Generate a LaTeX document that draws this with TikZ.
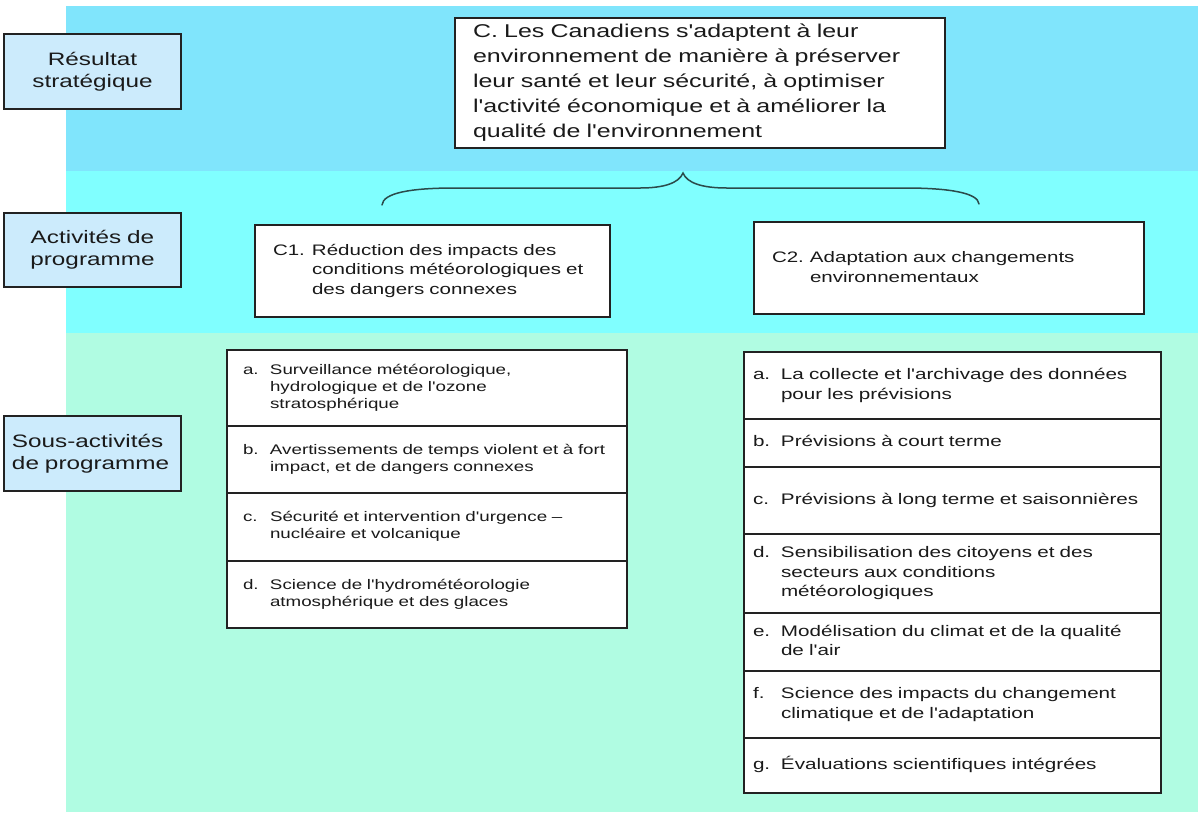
\documentclass[tikz,border=0pt]{standalone}
\usepackage{fontspec}
\newfontfamily\ar{Liberation Sans}[FakeStretch=1.35]
\definecolor{topband}{RGB}{128,229,252}
\definecolor{midband}{RGB}{128,255,255}
\definecolor{lowband}{RGB}{176,252,226}
\definecolor{labelfill}{RGB}{204,235,252}
\definecolor{edge}{RGB}{34,34,34}
\definecolor{ink}{RGB}{26,26,26}
\definecolor{bracecol}{RGB}{43,75,75}
% hanging item: marker in a fixed-width slot, lines stacked after it
\newcommand\hng[3]{\makebox[#2][l]{#1}\begin{tabular}[t]{@{}l@{}}#3\end{tabular}}
\begin{document}
\begin{tikzpicture}[x=1pt,y=-1pt,
  every node/.style={inner sep=0pt, outer sep=0pt, text=ink},
  lbox/.style={draw=edge, fill=labelfill, line width=1.2pt, anchor=north west,
    inner xsep=8pt, text width=161pt, minimum height=75pt,
    font=\ar\fontsize{18}{22}\selectfont},
  cbox/.style={draw=edge, fill=white, line width=1.2pt, anchor=north west,
    inner xsep=18pt, align=left},
  litem/.style={draw=edge, fill=white, line width=1.2pt, anchor=north west,
    inner xsep=16pt, text width=368pt, align=left,
    font=\ar\fontsize{13.9}{17}\selectfont},
  ritem/.style={draw=edge, fill=white, line width=1.2pt, anchor=north west,
    inner xsep=9pt, text width=399pt, align=left,
    font=\ar\fontsize{15.3}{19.5}\selectfont},
  bracepath/.style={draw=bracecol, line width=1.5pt, line cap=round}]
\useasboundingbox (0,0) rectangle (1198,812);
\fill[white] (0,0) rectangle (1198,812);
% background bands
\fill[topband] (66,6) rectangle (1198,171);
\fill[midband] (66,171) rectangle (1198,333);
\fill[lowband] (66,333) rectangle (1198,812);

% level labels
\node[lbox, align=center] (l1) at (4,34) {Résultat\\stratégique};
\node[lbox, align=center, minimum height=74pt] (l2) at (4,213) {Activités de\\programme};
\node[lbox, align=left] (l3) at (4,416) {Sous-activités\\de programme};

% strategic outcome
\node[cbox, text width=454pt, minimum height=130pt,
  font=\ar\fontsize{18.5}{25}\selectfont] (c) at (455,18)
  {C. Les Canadiens s'adaptent à leur\\
   environnement de manière à préserver\\
   leur santé et leur sécurité, à optimiser\\
   l'activité économique et à améliorer la\\
   qualité de l'environnement};

% program activities
\node[cbox, text width=319pt, minimum height=92pt,
  font=\ar\fontsize{15.2}{19.5}\selectfont] (c1) at (255,225)
  {\hng{C1.}{39pt}{Réduction des impacts des\\conditions météorologiques et\\des dangers connexes}};
\node[cbox, text width=354pt, minimum height=92pt,
  font=\ar\fontsize{15.2}{20}\selectfont] (c2) at (754,222)
  {\hng{C2.}{38pt}{Adaptation aux changements\\environnementaux}};

% brace grouping the two activities under the outcome
\coordinate (bl) at (382,205);
\coordinate (bt) at (683,173);
\coordinate (br) at (979,204);
\draw[bracepath] (bl) .. controls (383,193) and (410,188) .. (455,188)
  -- (640,188) .. controls (664,188) and (679,183) .. (bt)
  .. controls (687,183) and (702,188) .. (727,188)
  -- (905,188) .. controls (950,188) and (978,193) .. (br);

% sub-activities of C1
\node[litem, minimum height=76pt] (la) at (227,350)
  {\hng{a.}{27pt}{Surveillance météorologique,\\hydrologique et de l'ozone\\stratosphérique}};
\node[litem, minimum height=67pt] (lb) at (227,426)
  {\hng{b.}{27pt}{Avertissements de temps violent et à fort\\impact, et de dangers connexes}};
\node[litem, minimum height=68pt] (lc) at (227,493)
  {\hng{c.}{27pt}{Sécurité et intervention d'urgence –\\nucléaire et volcanique}};
\node[litem, minimum height=67pt] (ld) at (227,561)
  {\hng{d.}{27pt}{Science de l'hydrométéorologie\\atmosphérique et des glaces}};

% sub-activities of C2
\node[ritem, minimum height=67pt] (ra) at (744,352)
  {\hng{a.}{28pt}{La collecte et l'archivage des données\\pour les prévisions}};
\node[ritem, minimum height=48pt] (rb) at (744,419)
  {\hng{b.}{28pt}{Prévisions à court terme}};
\node[ritem, minimum height=67pt] (rc) at (744,467)
  {\hng{c.}{28pt}{Prévisions à long terme et saisonnières}};
\node[ritem, minimum height=79pt] (rd) at (744,534)
  {\hng{d.}{28pt}{Sensibilisation des citoyens et des\\secteurs aux conditions\\météorologiques}};
\node[ritem, minimum height=58pt] (re) at (744,613)
  {\hng{e.}{28pt}{Modélisation du climat et de la qualité\\de l'air}};
\node[ritem, minimum height=67pt] (rf) at (744,671)
  {\hng{f.}{28pt}{Science des impacts du changement\\climatique et de l'adaptation}};
\node[ritem, minimum height=55pt] (rg) at (744,738)
  {\hng{g.}{28pt}{Évaluations scientifiques intégrées}};
\end{tikzpicture}
\end{document}
